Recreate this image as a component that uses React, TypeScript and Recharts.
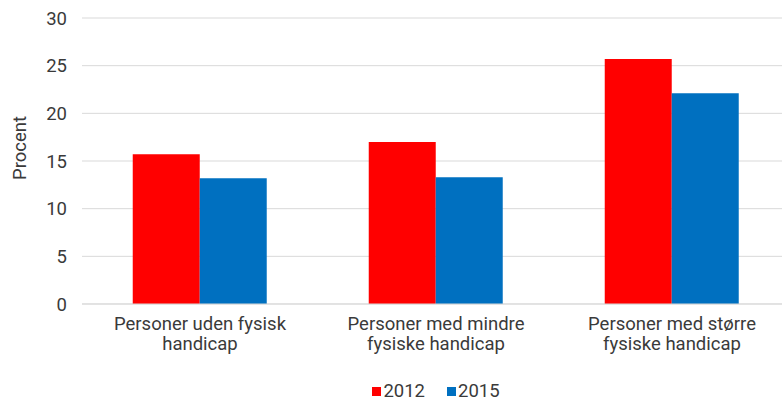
import React from "react";
import { BarChart, Bar, XAxis, YAxis, CartesianGrid, Legend } from "recharts";

const CATEGORIES = [
  "Personer uden fysisk\nhandicap",
  "Personer med mindre\nfysiske handicap",
  "Personer med større\nfysiske handicap",
];
const VALUES_2012 = [15.7, 17.0, 25.7];
const VALUES_2015 = [13.2, 13.3, 22.1];
const Y_TICKS = [0, 5, 10, 15, 20, 25, 30];

const RED = "#ff0000";
const BLUE = "#0070c0";
const TEXT = "#3a3a3a";
const FONT = "Roboto, 'Liberation Sans', sans-serif";
const FS = 18.5;

const data = CATEGORIES.map((name, i) => ({
  name,
  y2012: VALUES_2012[i],
  y2015: VALUES_2015[i],
}));

const CategoryTick = (props: any) => {
  const { x, y, payload } = props;
  const lines = String(payload.value).split("\n");
  return (
    <text x={x} y={y} textAnchor="middle" fill={TEXT} fontSize={FS} fontFamily={FONT}>
      {lines.map((line, i) => (
        <tspan key={i} x={x} dy={i === 0 ? 18 : 20}>
          {line}
        </tspan>
      ))}
    </text>
  );
};

const YLabel = (props: any) => {
  const { viewBox } = props;
  const cx = 20;
  const cy = viewBox.y + viewBox.height / 2 - 13;
  return (
    <text
      x={cx}
      y={cy}
      transform={`rotate(-90, ${cx}, ${cy})`}
      textAnchor="middle"
      dominantBaseline="central"
      fill={TEXT}
      fontSize={FS}
      fontFamily={FONT}
    >
      Procent
    </text>
  );
};

const LegendContent = () => (
  <div
    style={{
      display: "flex",
      justifyContent: "center",
      gap: 22,
      fontFamily: FONT,
      fontSize: FS,
      color: TEXT,
    }}
  >
    {[
      { label: "2012", color: RED },
      { label: "2015", color: BLUE },
    ].map((item) => (
      <div key={item.label} style={{ display: "flex", alignItems: "center", gap: 2 }}>
        <span style={{ width: 9, height: 9, background: item.color, display: "inline-block" }} />
        <span>{item.label}</span>
      </div>
    ))}
  </div>
);

export default function App() {
  return (
    <div
      style={{
        position: "absolute",
        left: 0,
        top: 0,
        width: 782,
        height: 403,
        overflow: "hidden",
        background: "#fff",
      }}
    >
      <BarChart
        width={790}
        height={403}
        data={data}
        margin={{ top: 18, right: 0, left: 0, bottom: 11 }}
        barCategoryGap="21.5%"
        barGap={0}
      >
        <CartesianGrid vertical={false} stroke="#d9d9d9" />
        <XAxis
          dataKey="name"
          axisLine={{ stroke: "#d9d9d9" }}
          tickLine={false}
          height={58}
          tick={<CategoryTick />}
          interval={0}
        />
        <YAxis
          width={82}
          domain={[0, 30]}
          ticks={Y_TICKS}
          axisLine={false}
          tickLine={false}
          tickMargin={9}
          tick={{ fill: TEXT, fontSize: FS, fontFamily: FONT }}
          label={<YLabel />}
        />
        <Legend
          content={<LegendContent />}
          height={30}
          wrapperStyle={{ left: 82, width: 708, top: 380 }}
        />
        <Bar dataKey="y2012" name="2012" fill={RED} isAnimationActive={false} />
        <Bar dataKey="y2015" name="2015" fill={BLUE} isAnimationActive={false} />
      </BarChart>
    </div>
  );
}
